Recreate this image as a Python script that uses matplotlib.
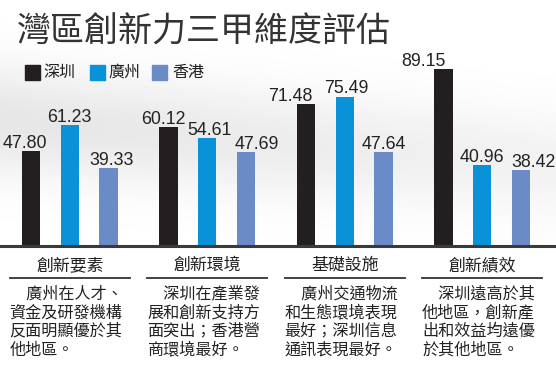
import numpy as np
import matplotlib
matplotlib.use("Agg")
import matplotlib.pyplot as plt
from matplotlib.transforms import blended_transform_factory
from matplotlib.patches import Rectangle

plt.rcParams['font.family'] = ['Noto Sans CJK TC', 'DejaVu Sans']

# data
categories = ["創新要素", "創新環境", "基礎設施", "創新績效"]
cities = ["深圳", "廣州", "香港"]
shenzhen = [47.80, 60.12, 71.48, 89.15]
guangzhou = [61.23, 54.61, 75.49, 40.96]
hongkong = [39.33, 47.69, 47.64, 38.42]
notes = [
    ["\u3000廣州在人才、", "資金及研發機構", "反面明顯優於其", "他地區。"],
    ["\u3000深圳在產業發", "展和創新支持方", "面突出；香港營", "商環境最好。"],
    ["\u3000廣州交通物流", "和生態環境表現", "最好；深圳信息", "通訊表現最好。"],
    ["\u3000深圳遠高於其", "他地區，創新產", "出和效益均遠優", "於其他地區。"],
]

colors = ["#231f20", "#0a92d9", "#6b8bc7"]
# small nudges of the value labels (points), as in the original layout
label_dx = [[-4.5, -3.5, -11.5, -14.5],
            [0, 2, 1.5, 0],
            [2, 7.5, 0, 9]]

W, H = 556, 368
fig = plt.figure(figsize=(W / 100, H / 100), dpi=100)

# soft gray background swoosh
bg = fig.add_axes([0, 0, 1, 1], zorder=-10)
yy, xx = np.mgrid[0:H, 0:W]
band = np.exp(-((yy - 120 - 0.08 * xx) / 55.0) ** 2)
fade = 1 - 0.5 * xx / W
img = 1 - 0.10 * band * fade
bg.imshow(img, cmap="gray", vmin=0, vmax=1, extent=[0, W, H, 0], aspect="auto")
bg.set_xlim(0, W)
bg.set_ylim(H, 0)
bg.axis("off")

base_y = (H - 246) / H
ax = fig.add_axes([0, base_y, 1, 198 / H])
ax.patch.set_alpha(0)
step = 137.5
ax.set_xlim(-69.7 / step, (W - 69.7) / step)
ax.set_ylim(0, 100)
ax.axis("off")

x = np.arange(len(categories))
off = 38.7 / step
bw = 18.3 / step
series = [shenzhen, guangzhou, hongkong]
for i, vals in enumerate(series):
    xs = x + (i - 1) * off
    ax.bar(xs, vals, width=bw, color=colors[i], zorder=3)
    for j, (xi, v) in enumerate(zip(xs, vals)):
        ax.annotate(f"{v:.2f}", (xi, v), xytext=(label_dx[i][j], 2.2),
                    textcoords="offset points", ha="center", va="baseline",
                    fontsize=12.8, family="Liberation Sans", color="#222222",
                    annotation_clip=False)

ax.axhline(0, color="#3a3a3a", lw=2.2, zorder=4, clip_on=False)

# title
fig.text(17 / W, 1 - 32 / H, "灣區創新力三甲維度評估", fontsize=24.5,
         color="#333333", ha="left", va="center")

# legend
leg_sq = [25, 90, 152]
leg_tx = [43, 108, 172]
for c, name, sx, tx in zip(colors, cities, leg_sq, leg_tx):
    fig.patches.append(Rectangle((sx / W, 1 - 80 / H), 15 / W, 15 / H,
                                 transform=fig.transFigure, color=c))
    fig.text(tx / W, 1 - 72.5 / H, name, fontsize=11.5, color="#222222",
             ha="left", va="center")

# category names, underlines and notes
tr = blended_transform_factory(ax.transData, fig.transFigure)
half = 60 / step
for j, cat in enumerate(categories):
    ax.text(x[j], 1 - 265 / H, cat, transform=tr, ha="center", va="center",
            fontsize=12.2, color="#222222")
    ax.plot([x[j] - half, x[j] + half], [1 - 277.5 / H] * 2, transform=tr,
            color="#333333", lw=1.3, clip_on=False)
    for k, line in enumerate(notes[j]):
        ax.text(x[j] - half, 1 - (294 + 18.7 * k) / H, line, transform=tr,
                ha="left", va="center", fontsize=11.6, color="#222222")

fig.savefig("out.png", dpi=100)
